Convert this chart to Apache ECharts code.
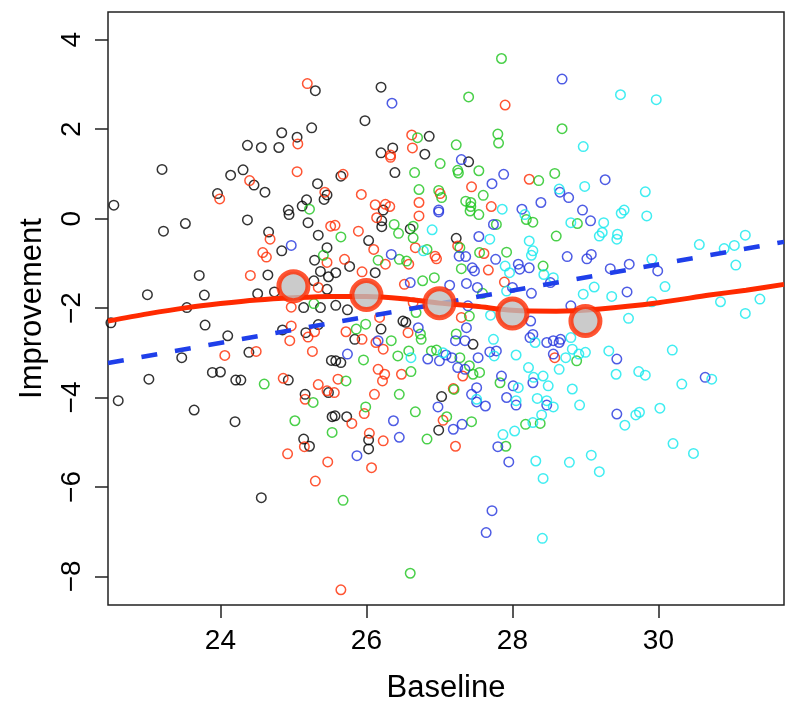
<!DOCTYPE html>
<html>
<head>
<meta charset="utf-8">
<script src="https://cdn.jsdelivr.net/npm/echarts@6/dist/echarts.min.js"></script>
<style>html,body{margin:0;padding:0;background:#fff}#c{width:800px;height:710px}</style>
</head>
<body>
<div id="c"></div>
<script>
// ---- data ----
const xTicks = [24, 26, 28, 30];
const yTicks = [4, 2, 0, -2, -4, -6, -8];

const blackX = [22.54,23.20,25.30,25.25,24.84,25.05,24.37,24.56,24.80,24.31,24.14,24.46,24.61,25.33,25.46,25.42,23.96,25.18,25.12,24.93,
  26.20,25.98,26.86,26.36,26.20,26.80,27.40,26.39,25.65,26.23,
  23.22,23.52,24.37,24.94,25.20,24.66,25.34,24.84,25.46,25.29,25.37,25.48,24.65,23.71,25.28,25.46,23.00,23.78,24.51,24.74,25.14,25.37,23.54,22.50,23.79,24.85,25.17,25.34,24.10,24.39,23.47,25.52,23.02,23.89,24.00,24.21,24.28,24.93,25.48,25.16,22.60,
  26.21,26.21,26.60,26.03,25.77,25.58,26.12,27.23,25.58,25.74,25.84,26.20,26.50,26.54,27.46,25.58,25.65,27.03,
  23.64,24.20,25.53,25.14,25.22,24.56,25.57,25.73,26.03,26.03,26.99];
const blackY = [0.30,1.10,2.86,2.03,1.92,1.82,1.64,1.59,1.59,1.09,0.97,0.75,0.59,0.78,0.53,0.43,0.56,0.42,0.28,0.19,
  2.94,2.19,1.84,1.58,1.47,1.44,1.27,1.03,0.95,0.19,
  -0.28,-0.11,-0.03,0.09,-0.09,-0.30,-0.37,-0.72,-0.65,-0.93,-1.18,-1.30,-1.26,-1.27,-1.39,-1.58,-1.70,-1.71,-1.68,-1.64,-1.99,-1.99,-1.99,-2.33,-2.38,-2.49,-2.55,-2.37,-2.62,-2.99,-3.11,-3.17,-3.59,-3.44,-3.43,-3.61,-3.61,-3.61,-3.89,-3.93,-4.07,
  -0.05,-0.18,-0.23,-0.49,-1.07,-1.21,-1.21,-0.44,-1.94,-2.04,-2.70,-2.47,-2.29,-2.32,-2.81,-3.18,-3.22,-3.98,
  -4.28,-4.54,-4.43,-4.93,-5.09,-6.24,-4.41,-4.43,-4.95,-5.15,-4.73];

const redX = [25.19,25.06,25.05,24.40,25.43,23.99,
  27.90,26.62,26.63,26.33,26.33,25.68,28.23,27.44,27.01,25.93,26.12,26.26,26.32,26.72,27.71,
  25.51,24.68,24.58,24.63,25.46,24.41,25.34,24.97,24.97,25.20,25.29,24.95,25.26,24.49,24.06,24.86,25.34,25.46,25.16,
  26.14,25.57,26.72,25.89,26.10,25.70,25.94,26.26,26.58,26.67,26.94,26.96,27.25,27.61,27.67,26.52,27.89,25.72,25.94,26.18,26.57,26.64,27.30,28.58,26.13,26.23,26.16,26.25,26.22,25.61,25.56,26.11,26.48,27.32,27.19,
  25.15,24.92,25.47,25.30,25.97,25.80,26.04,26.23,27.05,27.22,26.07,25.65];
const redY = [3.02,1.67,1.05,0.85,0.59,0.44,
  2.54,1.87,1.58,1.42,1.37,0.99,0.88,0.71,0.56,0.54,0.31,0.32,0.27,0.36,0.27,
  -0.17,-0.46,-0.76,-0.86,-0.98,-1.27,-1.54,-1.98,-2.40,-2.65,-2.53,-2.73,-2.97,-2.97,-3.06,-3.57,-3.71,-3.85,-4.04,
  0.02,-0.15,0.06,-0.28,-0.69,-0.91,-1.19,-1.02,-1.02,-0.65,-0.84,-0.90,-0.61,-0.78,-1.15,-1.47,-1.42,-2.53,-2.70,-2.21,-2.55,-1.88,-2.21,-3.11,-2.77,-2.92,-3.37,-3.48,-3.63,-3.59,-3.89,-3.93,-3.48,-3.52,-3.80,
  -5.10,-5.26,-5.44,-5.87,-4.36,-4.58,-4.80,-4.97,-4.51,-5.09,-5.57,-8.30];

const greenX = [25.22,
  27.85,27.40,26.70,27.80,27.81,27.23,27.01,26.66,27.25,27.26,27.54,28.36,28.58,26.72,26.99,27.03,27.60,27.36,27.43,27.43,
  28.68,
  25.41,25.28,24.60,25.27,
  26.38,26.64,26.44,26.64,25.65,26.16,26.55,26.45,26.83,27.28,27.42,27.54,27.78,28.19,28.28,28.60,27.55,27.92,27.30,28.42,26.93,26.77,27.59,25.99,25.86,26.68,26.74,26.75,26.89,27.41,27.23,26.34,26.43,26.58,25.96,25.72,26.45,26.61,26.96,27.28,27.41,27.46,27.55,27.83,27.20,
  28.89,28.88,
  25.02,25.53,
  25.99,26.67,27.10,27.44,26.83,28.18,28.38,27.91,25.68,26.60];
const greenY = [0.21,
  3.58,2.72,1.81,1.89,1.69,1.65,1.23,1.03,1.08,1.02,1.07,0.85,1.01,0.65,0.63,0.47,0.52,0.39,0.36,0.27,
  2.01,
  -0.82,-1.90,-3.70,-4.11,
  -0.13,-0.17,-0.33,-0.43,-0.41,-0.93,-0.95,-0.91,-0.69,-0.65,0.17,0.09,-0.13,-0.02,-0.08,-0.39,-0.76,-0.75,-1.12,-1.06,-1.32,-1.39,-1.67,-2.36,-2.47,-2.10,-2.58,-2.70,-2.96,-2.18,-2.58,-2.73,-3.07,-2.96,-3.16,-3.63,-3.93,-3.42,-2.94,-3.11,-3.29,-3.48,-3.44,-3.67,-3.82,
  -0.11,-3.18,
  -4.52,-4.78,
  -4.21,-4.32,-4.43,-4.54,-4.93,-4.60,-4.58,-5.09,-6.30,-7.93];

const blueX = [26.35,27.30,27.88,27.72,26.99,28.13,28.39,
  28.68,28.65,28.77,29.27,28.96,
  24.97,
  26.34,26.99,27.27,27.36,27.74,27.54,27.77,27.45,27.48,28.08,28.10,28.23,28.52,26.60,27.14,27.37,27.52,28.00,28.26,26.71,27.37,27.22,27.35,27.39,28.25,28.28,28.24,28.47,28.56,27.69,27.78,28.56,26.16,25.74,26.84,27.09,27.00,27.17,27.53,27.25,27.35,27.85,28.01,28.28,27.44,27.51,27.92,
  29.07,28.75,29.02,29.08,29.60,29.34,29.99,28.80,29.57,28.66,28.64,29.43,30.64,
  26.37,26.45,26.98,27.19,27.31,25.87,27.51,27.63,28.05,28.47,27.80,27.95,27.72,27.64,
  29.43];
const blueY = [2.58,1.32,0.99,0.78,0.19,0.21,0.36,
  3.12,0.59,0.47,0.87,0.19,
  -0.60,
  -0.80,0.15,-0.84,-0.85,-0.13,-0.40,-0.91,-1.10,-1.17,-1.02,-1.13,-1.10,-1.43,-1.43,-1.49,-1.45,-1.54,-1.54,-1.67,-2.44,-2.44,-2.73,-2.73,-1.95,-2.29,-2.59,-2.66,-2.77,-2.73,-2.98,-2.96,-3.03,-2.73,-3.03,-3.14,-3.05,-3.18,-3.11,-3.11,-3.33,-3.37,-3.52,-3.74,-3.67,-3.93,-3.78,-4.00,
  -0.05,-0.85,-0.90,-0.80,-1.02,-1.12,-1.17,-1.95,-1.64,-2.70,-2.77,-3.14,-3.55,
  -4.52,-4.89,-4.21,-4.71,-4.60,-5.30,-4.10,-4.19,-4.17,-4.17,-5.10,-5.44,-6.53,-7.02,
  -4.37];

const cyanX = [27.86,
  29.48,29.97,28.97,28.64,28.99,29.82,29.53,
  26.90,26.78,28.17,28.23,28.28,28.26,27.69,27.90,27.96,28.43,28.56,27.92,27.70,28.31,27.74,27.75,28.05,26.61,27.05,28.08,28.22,28.29,28.42,28.49,27.51,28.05,28.34,28.47,
  29.49,29.84,28.80,29.25,29.19,29.23,29.44,29.43,30.56,30.90,31.04,31.19,29.91,31.06,29.12,28.97,29.36,30.09,29.91,30.85,31.39,31.19,29.59,28.80,28.82,28.73,28.91,29.00,28.64,29.32,30.19,29.42,29.73,29.82,30.73,30.32,28.82,
  28.56,28.40,28.28,28.03,27.87,28.32,28.42,28.41,
  28.92,29.54,29.69,29.74,30.02,30.20,30.48,28.78,29.08,29.19];
const cyanY = [0.21,
  2.77,2.66,1.61,0.66,0.72,0.60,0.19,
  -0.25,-0.72,0.09,-0.50,-0.72,-0.82,-0.46,-1.06,-1.21,-1.25,-1.32,-1.62,-2.16,-2.77,-2.70,-3.07,-3.05,-3.11,-3.00,-3.78,-3.33,-3.55,-3.52,-3.74,-4.04,-4.07,-4.02,-4.07,
  0.12,0.06,-0.09,-0.09,-0.39,-0.31,-0.35,-0.46,-0.58,-0.67,-0.60,-0.37,-0.91,-1.04,-1.53,-1.69,-1.74,-1.52,-1.86,-1.86,-1.80,-2.12,-2.23,-2.66,-2.92,-3.11,-3.03,-2.99,-3.37,-2.96,-2.94,-3.48,-3.42,-3.50,-3.59,-3.70,-3.81,
  -4.21,-4.39,-4.56,-4.75,-4.83,-5.42,-5.81,-7.15,
  -4.17,-4.62,-4.39,-4.33,-4.24,-5.03,-5.25,-5.45,-5.29,-5.66];

// group means (large grey dots)
const meanX = [25, 26, 27, 28, 29];
const meanY = [-1.51, -1.71, -1.89, -2.12, -2.29];

// smooth (loess) curve
const smoothX = [22.46, 23.0, 23.54, 24.0, 24.5, 25.0, 25.5, 26.0, 26.5, 27.0, 27.5, 28.0, 28.6, 29.2, 30.0, 30.7, 31.2, 31.72];
const smoothY = [-2.29, -2.13, -1.99, -1.90, -1.82, -1.77, -1.74, -1.74, -1.79, -1.89, -1.96, -2.05, -2.07, -2.02, -1.88, -1.71, -1.60, -1.47];

// linear fit
const fitX = [22.46, 31.72];
const fitY = [-3.23, -0.52];

// ---- chart ----
const pairs = (xs, ys) => xs.map((x, i) => [x, ys[i]]);
const FONT = '"Liberation Sans", Arial, Helvetica, sans-serif';

function pts(name, xs, ys, color) {
  return {
    name, type: 'scatter', data: pairs(xs, ys), symbol: 'circle', symbolSize: 9.5,
    itemStyle: { color: 'rgba(0,0,0,0)', borderColor: color, borderWidth: 1.5 },
    silent: true, z: 2
  };
}

const chart = echarts.init(document.getElementById('c'), null, { renderer: 'canvas' });
chart.setOption({
  animation: false,
  backgroundColor: '#fff',
  grid: { left: 108, right: 16, top: 12, bottom: 105, show: true, borderColor: '#222', borderWidth: 1.5, backgroundColor: 'transparent' },
  xAxis: {
    type: 'value', min: 22.46, max: 31.72,
    name: 'Baseline', nameLocation: 'middle', nameGap: 68,
    nameTextStyle: { fontFamily: FONT, fontSize: 31, color: '#000' },
    axisLine: { show: false, onZero: false },
    splitLine: { show: false },
    axisTick: { show: true, length: 13, customValues: xTicks, lineStyle: { color: '#222', width: 1.5 } },
    axisLabel: { customValues: xTicks, fontFamily: FONT, fontSize: 28, color: '#000', margin: 22 }
  },
  yAxis: {
    type: 'value', min: -8.64, max: 4.62,
    name: 'Improvement', nameLocation: 'middle', nameGap: 60, nameRotate: 90,
    nameTextStyle: { fontFamily: FONT, fontSize: 31, color: '#000' },
    axisLine: { show: false, onZero: false },
    splitLine: { show: false },
    axisTick: { show: true, length: 13, customValues: yTicks, lineStyle: { color: '#222', width: 1.5 } },
    axisLabel: { customValues: yTicks, rotate: 90, fontFamily: FONT, fontSize: 28, color: '#000', margin: 22,
      formatter: v => (v < 0 ? '\u2212' + Math.abs(v) : String(v)) }
  },
  series: [
    pts('black', blackX, blackY, '#000000'),
    pts('red', redX, redY, '#FF2A00'),
    pts('green', greenX, greenY, '#1DC41D'),
    pts('blue', blueX, blueY, '#2233DD'),
    pts('cyan', cyanX, cyanY, '#11E8EE'),
    { type: 'line', data: pairs(fitX, fitY), showSymbol: false, silent: true, z: 3,
      lineStyle: { color: '#1F3FEA', width: 4.5, type: [16, 18], cap: 'butt' } },
    { type: 'line', data: pairs(smoothX, smoothY), showSymbol: false, smooth: 0.3, silent: true, z: 4,
      lineStyle: { color: '#FF2A00', width: 5 } },
    { type: 'scatter', data: pairs(meanX, meanY), symbol: 'circle', symbolSize: 29, silent: true, z: 5,
      itemStyle: { color: '#BEBEBE', borderColor: '#FF2A00', borderWidth: 5 } }
  ]
});
</script>
</body>
</html>
